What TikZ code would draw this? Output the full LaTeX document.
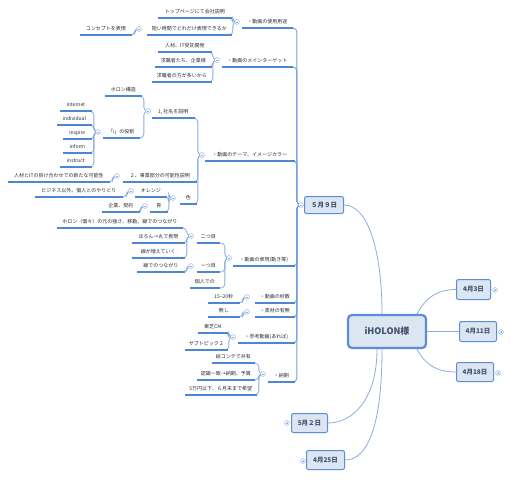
\documentclass[tikz,border=0pt]{standalone}
\usepackage{fontspec}
\setmainfont{Noto Sans CJK JP}
\usetikzlibrary{backgrounds}
\definecolor{ulc}{HTML}{4D87D4}
\definecolor{cnc}{HTML}{8AAEE2}
\definecolor{txt}{HTML}{2E2E2E}
\definecolor{bfill}{HTML}{DCE6F3}
\definecolor{bdr}{HTML}{5B8ED6}
\definecolor{dtxt}{HTML}{3E5170}
\definecolor{togc}{HTML}{8FB1E0}
\tikzset{
  ul/.style={draw=ulc, line width=1.2pt},
  topic/.style={font=\fontsize{5}{6}\selectfont, text=txt, anchor=south east,
    inner xsep=0pt, inner ysep=0pt, text height=4.4pt, text depth=4.1pt,
    minimum width=#1pt,
    append after command={(\tikzlastnode.south west) edge[ul] (\tikzlastnode.south east)}},
  tog/.style={circle, draw=togc, fill=white, line width=0.5pt, inner sep=0pt, minimum size=4.8pt,
    path picture={\draw[togc, line width=0.45pt] ([xshift=-1.4pt]path picture bounding box.center) -- ([xshift=1.4pt]path picture bounding box.center);}},
  togp/.style={circle, draw=togc, fill=white, line width=0.5pt, inner sep=0pt, minimum size=4.8pt,
    path picture={\draw[togc, line width=0.45pt] ([xshift=-1.4pt]path picture bounding box.center) -- ([xshift=1.4pt]path picture bounding box.center) ([yshift=-1.4pt]path picture bounding box.center) -- ([yshift=1.4pt]path picture bounding box.center);}},
  conn/.style={draw=cnc, line width=0.8pt, rounded corners=4pt},
  trunk/.style={draw=ulc!80!white, line width=0.9pt, rounded corners=4pt},
  datebox/.style={draw=bdr, fill=bfill, line width=1pt, rounded corners=2pt, inner sep=0pt,
    font=\fontsize{6.5}{7}\selectfont\bfseries, text=dtxt},
  rootbox/.style={draw=bdr, fill=bfill, line width=2.2pt, rounded corners=4pt, inner sep=0pt,
    minimum width=78pt, minimum height=33pt, font=\fontsize{9}{10}\selectfont\bfseries, text=dtxt},
}
\newcommand\mmlink[2]{\draw[conn] (#1.west) -- ++(-1.5,0) |- (#2.south east);}
\begin{document}
\begin{tikzpicture}[x=1pt,y=-1pt]
\useasboundingbox (0,0) rectangle (511,479);

% central and date nodes
\node[rootbox] (root) at (387,331.5) {iHOLON様};
\node[datebox, minimum width=39pt, minimum height=17pt] (d59) at (324,205) {５月９日};
\node[datebox, minimum width=34pt, minimum height=20pt] (d43) at (473.5,289.5) {4月3日};
\node[datebox, minimum width=37pt, minimum height=20pt] (d411) at (478,331.5) {4月11日};
\node[datebox, minimum width=37pt, minimum height=19pt] (d418) at (475,372) {4月18日};
\node[datebox, minimum width=36pt, minimum height=19pt] (d52) at (309.5,423) {5月２日};
\node[datebox, minimum width=38pt, minimum height=19pt] (d425) at (325.5,460) {4月25日};

% level 1
\node[topic=51] (t1) at (293,28) {・動画の使用用途};
\node[topic=71] (t2) at (293,67) {・動画のメインターゲット};
\node[topic=90] (t3) at (295,161) {・動画のテーマ、イメージカラー};
\node[topic=62] (t4) at (295,266) {・動画の表現(動き等)};
\node[topic=40] (t5) at (295,303) {・動画の秒数};
\node[topic=40] (t6) at (295,317) {・素材の有無};
\node[topic=57] (t7) at (295,343) {・参考動画(あれば)};
\node[topic=27] (t8) at (295,382) {・納期};

% level 2+
\node[topic=74] (t1a) at (232,18) {トップページにて会社説明};
\node[topic=85] (t1b) at (232,35) {短い時間でどれだけ表現できるか};
\node[topic=52] (t1b1) at (132,35) {コンセプトを表現};

\node[topic=54] (t2a) at (212,52) {人材、IT受託開発};
\node[topic=57] (t2b) at (212,67) {求職者たち、企業様};
\node[topic=60] (t2c) at (212,82) {求職者の方が多いから};

\node[topic=43] (t3a) at (195,118) {1, 社名を説明};
\node[topic=37] (t3a1) at (142,96) {ホロン構造};
\node[topic=37] (t3a2) at (140,138) {「i」の役割};
\node[topic=32] (i1) at (92,111) {internet};
\node[topic=35] (i2) at (92,125) {individual};
\node[topic=29] (i3) at (92,139) {inspire};
\node[topic=29] (i4) at (92,153) {inform};
\node[topic=32] (i5) at (92,167) {instruct};
\node[topic=74] (t3b) at (197,182) {２、事業部分の可能性説明};
\node[topic=102] (t3b1) at (110,182) {人材とITの掛け合わせでの新たな可能性};
\node[topic=17] (t3c) at (197,204) {色};
\node[topic=32] (t3c1) at (167,197) {オレンジ};
\node[topic=88] (t3c1a) at (123,197) {ビジネス以外、個人とのやりとり};
\node[topic=18] (t3c2) at (168,212) {青};
\node[topic=38] (t3c2a) at (140,212) {企業、契約};

\node[topic=23] (t4a) at (220,243) {二つ目};
\node[topic=126] (t4a1) at (183,228) {ホロン（個々）の元の強さ、移動、線でのつながり};
\node[topic=53] (t4a2) at (185,243) {ほろん→丸で表現};
\node[topic=53] (t4a3) at (185,258) {線が増えていく};
\node[topic=23] (t4b) at (220,272) {一つ目};
\node[topic=48] (t4b1) at (185,272) {線でのつながり};
\node[topic=30] (t4c) at (220,288) {個人での};

\node[topic=32] (t5a) at (240,303) {15\textasciitilde 20秒};
\node[topic=32] (t6a) at (240,317) {無し};
\node[topic=30] (t7a) at (228,333) {東芝CM};
\node[topic=43] (t7b) at (228,350) {サブトピック２};
\node[topic=43] (t8a) at (255,363) {絵コンテで共有};
\node[topic=58] (t8b) at (255,380) {認識一致→納期、予算};
\node[topic=72] (t8c) at (257,395) {5万円以下、６月末まで希望};

% toggles
\node[tog] (c0) at (301,205) {};
\node[togp] (p43) at (495,290) {};
\node[togp] (p411) at (501,332) {};
\node[togp] (p418) at (498,373) {};
\node[togp] (p52) at (287,423) {};
\node[togp] (p425) at (303,461) {};
\node[tog] (c1) at (237,22) {};
\node[tog] (c1b) at (139,29) {};
\node[tog] (c2) at (217,60) {};
\node[tog] (c3) at (202,155) {};
\node[tog] (c3a) at (148,111) {};
\node[tog] (c3a2) at (98,132) {};
\node[tog] (c3b) at (117,176) {};
\node[tog] (c3c) at (173,198) {};
\node[tog] (c3c1) at (131,191) {};
\node[tog] (c3c2) at (145,206) {};
\node[tog] (c4) at (229,258) {};
\node[tog] (c4a) at (191,236) {};
\node[tog] (c4b) at (191,266) {};
\node[tog] (c5) at (247,297) {};
\node[tog] (c6) at (247,312) {};
\node[tog] (c7) at (233,337) {};
\node[tog] (c8) at (263,374) {};

\begin{pgfonlayer}{background}
\fill[white] (0,0) rectangle (511,479);
% root to dates
\draw[conn] ([xshift=-5pt]root.north) .. controls +(0,-60) and +(25,0) .. (d59.east);
\draw[conn] ([xshift=30pt]root.north) .. controls +(8,-15) and +(-20,0) .. (d43.west);
\draw[conn] (root.east) -- (d411.west);
\draw[conn] ([xshift=30pt]root.south) .. controls +(8,15) and +(-20,0) .. (d418.west);
\draw[conn] ([xshift=-10pt]root.south) .. controls +(0,50) and +(25,0) .. (d52.east);
\draw[conn] ([xshift=-5pt]root.south) .. controls +(0,70) and +(25,0) .. (d425.east);
% trunk
\foreach \k in {t1,t2,t3,t4,t5,t6,t7,t8} {\draw[trunk] (c0.west) -- ++(-1.5,0) |- (\k.south east);}
\mmlink{c1}{t1a} \mmlink{c1}{t1b}
\mmlink{c1b}{t1b1}
\mmlink{c2}{t2a} \mmlink{c2}{t2b} \mmlink{c2}{t2c}
\mmlink{c3}{t3a} \mmlink{c3}{t3b} \mmlink{c3}{t3c}
\mmlink{c3a}{t3a1} \mmlink{c3a}{t3a2}
\foreach \k in {i1,i2,i3,i4,i5} {\mmlink{c3a2}{\k}}
\mmlink{c3b}{t3b1}
\mmlink{c3c}{t3c1} \mmlink{c3c}{t3c2}
\mmlink{c3c1}{t3c1a}
\mmlink{c3c2}{t3c2a}
\mmlink{c4}{t4a} \mmlink{c4}{t4b} \mmlink{c4}{t4c}
\mmlink{c4a}{t4a1} \mmlink{c4a}{t4a2} \mmlink{c4a}{t4a3}
\mmlink{c4b}{t4b1}
\mmlink{c5}{t5a}
\mmlink{c6}{t6a}
\mmlink{c7}{t7a} \mmlink{c7}{t7b}
\mmlink{c8}{t8a} \mmlink{c8}{t8b} \mmlink{c8}{t8c}
\end{pgfonlayer}
\end{tikzpicture}
\end{document}
